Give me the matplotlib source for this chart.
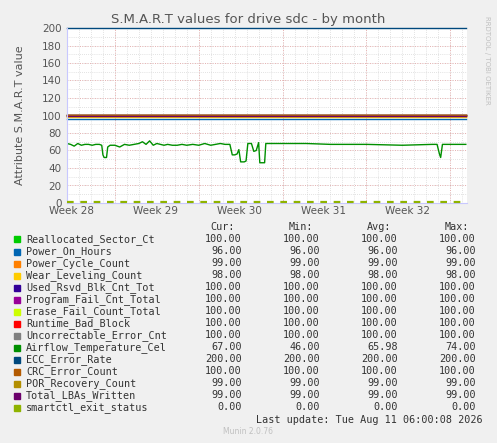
import matplotlib
matplotlib.use("Agg")
import matplotlib.pyplot as plt

# series names, colours and summary values (cur, min, avg, max)
names = ["Reallocated_Sector_Ct", "Power_On_Hours", "Power_Cycle_Count", "Wear_Leveling_Count",
         "Used_Rsvd_Blk_Cnt_Tot", "Program_Fail_Cnt_Total", "Erase_Fail_Count_Total",
         "Runtime_Bad_Block", "Uncorrectable_Error_Cnt", "Airflow_Temperature_Cel",
         "ECC_Error_Rate", "CRC_Error_Count", "POR_Recovery_Count", "Total_LBAs_Written",
         "smartctl_exit_status"]
colors = ["#00CC00", "#0066B3", "#FF8000", "#FFCC00", "#330099", "#990099", "#CCFF00",
          "#FF0000", "#808080", "#008F00", "#00487D", "#B35A00", "#B38F00", "#6B006B",
          "#8FB300"]
cur = [100, 96, 99, 98, 100, 100, 100, 100, 100, 67, 200, 100, 99, 99, 0]
vmin = [100, 96, 99, 98, 100, 100, 100, 100, 100, 46, 200, 100, 99, 99, 0]
vavg = [100, 96, 99, 98, 100, 100, 100, 100, 100, 65.98, 200, 100, 99, 99, 0]
vmax = [100, 96, 99, 98, 100, 100, 100, 100, 100, 74, 200, 100, 99, 99, 0]

# temperature trace (days since start, value)
temp_days = [0, 0.3, 0.6, 0.9, 1.2, 1.5, 1.8, 2.1, 2.4, 2.7, 2.9, 3.0, 3.1, 3.3, 3.4, 3.6,
             4.0, 4.4, 4.8, 5.2, 5.6, 6.0, 6.3, 6.6, 6.9, 7.2, 7.5, 7.8, 8.1, 8.4, 8.8, 9.2,
             9.6, 10.0, 10.5, 11.0, 11.5, 12.0, 12.4, 12.8, 13.2, 13.6, 13.8, 14.0, 14.2,
             14.35, 14.5, 14.8, 14.95, 15.1, 15.4, 15.6, 15.8, 16.0, 16.1, 16.5, 16.6, 20.0,
             22.0, 25.0, 28.0, 30.5, 30.9, 31.1, 31.2, 31.35, 33.3]
temp_vals = [68, 67, 65, 68, 66, 67, 67, 66, 67, 67, 66, 55, 52, 52, 64, 66,
             66, 64, 67, 66, 67, 68, 70, 67, 71, 66, 68, 67, 66, 67, 66, 66,
             67, 66, 67, 66, 68, 66, 67, 68, 67, 67, 55, 55, 56, 61, 47, 47, 48, 68, 68,
             59, 60, 69, 46, 46, 68, 68, 67, 67, 66, 67, 67, 56, 52, 67, 67]

flat_order = [i for i in range(len(names)) if i not in (9, 14)]

fig = plt.figure(figsize=(4.97, 4.43), dpi=100, facecolor="#F0F0F0")
ax = fig.add_axes([67 / 497, 240 / 443, 400 / 497, 175 / 443])
ax.set_facecolor("white")
ax.set_xlim(0, 33.4)
ax.set_ylim(0, 200)

for d in range(1, 34):
    ax.axvline(d, color="#C8C8C8", lw=0.5, ls=(0, (1, 2)), zorder=0)
for y in range(10, 200, 10):
    ax.axhline(y, color="#C8C8C8", lw=0.5, ls=(0, (1, 2)), zorder=0)
for d in [4, 11, 18, 25, 32]:
    ax.axvline(d, color="#E8A0A0", lw=0.6, ls=(0, (1, 2)), zorder=0)
for y in range(20, 201, 20):
    ax.axhline(y, color="#E8A0A0", lw=0.6, ls=(0, (1, 2)), zorder=0)

for i in flat_order:
    ax.plot([0, 33.3], [cur[i], cur[i]], color=colors[i], lw=1, clip_on=False)
ax.plot(temp_days, temp_vals, color=colors[9], lw=1)
ax.plot([0, 33.3], [cur[14] + 0.8, cur[14] + 0.8], color=colors[14], lw=1.6,
        ls=(0, (3, 3)), clip_on=False, zorder=5)

for s in ["top", "right"]:
    ax.spines[s].set_visible(False)
ax.spines["left"].set_color("#C8C8FF")
ax.spines["bottom"].set_color("#C8C8FF")
ax.set_yticks(range(0, 201, 20))
ax.set_xticks([0.4 + 7 * k for k in range(5)])
ax.set_xticklabels(["Week %d" % w for w in range(28, 33)])
ax.tick_params(axis="x", length=0, labelsize=7.5, colors="#555555", pad=2)
ax.tick_params(axis="y", length=0, labelsize=7.5, colors="#555555", pad=4)
ax.set_ylabel("Attribute S.M.A.R.T value", fontsize=8, color="#555555", labelpad=12)
fig.text(248 / 497, 1 - 19 / 443, "S.M.A.R.T values for drive sdc - by month",
         ha="center", va="center", fontsize=9.5, color="#555555")
fig.text(487 / 497, 1 - 60 / 443, "RRDTOOL / TOBI OETIKER", rotation=-90,
         ha="center", va="center", fontsize=5, color="#C0C0C0")

mono = dict(family="DejaVu Sans Mono", fontsize=7.3, color="#333333", va="center")
for x, h in [(235, "Cur:"), (313, "Min:"), (391, "Avg:"), (469, "Max:")]:
    fig.text(x / 497, 1 - 227 / 443, h, ha="right", **mono)
for i, n in enumerate(names):
    y = 1 - (239.5 + 12 * i) / 443
    fig.patches.append(plt.Rectangle((14 / 497, y - 3 / 443), 6 / 497, 6 / 443,
                                     transform=fig.transFigure, color=colors[i]))
    fig.text(26 / 497, y, n, ha="left", **mono)
    for x, v in [(242, cur[i]), (320, vmin[i]), (398, vavg[i]), (476, vmax[i])]:
        fig.text(x / 497, y, "%.2f" % v, ha="right", **mono)
fig.text(483 / 497, 1 - 420 / 443, "Last update: Tue Aug 11 06:00:08 2026", ha="right", **mono)
fig.text(248 / 497, 1 - 432 / 443, "Munin 2.0.76", ha="center", va="center",
         fontsize=5.5, color="#C0C0C0")

fig.savefig("out.png", dpi=100, facecolor=fig.get_facecolor())
